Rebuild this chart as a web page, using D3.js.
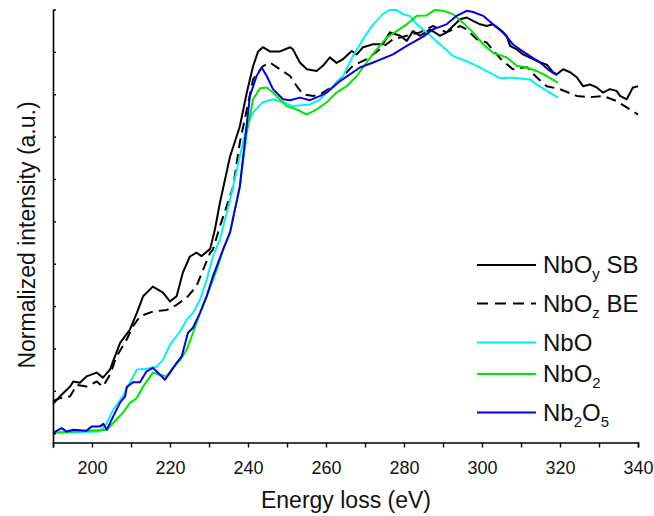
<!DOCTYPE html>
<html>
<head>
<meta charset="utf-8">
<script src="https://cdn.jsdelivr.net/npm/d3@7"></script>
<style>
	body { margin: 0; background: #fff; }
	svg { font-family: Arial, "Liberation Sans", sans-serif; }
</style>
</head>
<body>
<div id="divplot"></div>
<script>
// EELS Nb M-edge comparison

const sbEnergy = [190,191.8,194.4,195.2,196.9,198.6,201.2,202.8,204.6,207.2,209.7,211.5,213.1,215.6,218.2,220,221.7,223.3,225.1,226.8,228.1,230.3,231.5,232.8,235.4,237.9,239.7,241.3,242.6,243.8,245.6,248.2,250.8,251.5,253.3,255.1,257.6,259.2,261,262.7,264.4,266.6,267.9,269.5,272.1,274.6,276.4,279,280.7,282.3,284.1,286.7,289.2,290.9,292.6,294.4,296.1,297.7,299.5,301.2,302.8,304.6,306.3,307.2,308.9,310.5,313.1,314.9,316.6,318.2,319.2,320.8,322.6,324.3,325.9,327.7,329.4,331,332.8,334.5,335.4,337.1,338.7,340]
const sbIntensity = [0.069,0.087,0.110,0.122,0.119,0.134,0.143,0.131,0.150,0.213,0.244,0.284,0.323,0.346,0.332,0.311,0.323,0.379,0.417,0.426,0.418,0.435,0.48,0.544,0.653,0.724,0.804,0.866,0.901,0.911,0.901,0.901,0.911,0.906,0.875,0.859,0.855,0.867,0.887,0.874,0.883,0.902,0.894,0.911,0.918,0.918,0.946,0.938,0.926,0.949,0.938,0.953,0.938,0.946,0.961,0.977,0.981,0.973,0.965,0.961,0.965,0.953,0.938,0.914,0.906,0.894,0.883,0.875,0.870,0.852,0.847,0.859,0.852,0.840,0.819,0.823,0.816,0.804,0.812,0.808,0.796,0.788,0.816,0.819]

const beEnergy = [190,191.8,194.4,196.1,198.6,201.2,202.8,204.6,206.3,208.9,210.5,212.3,215.6,219.2,221.7,224.3,226.8,228.5,230.3,231,232.8,236.2,237.9,239.7,241.3,243.8,245.6,248.2,250.8,252.5,254.1,256.7,258.5,261.8,266.9,270.4,273.8,277.2,280.7,284.1,287.4,290.9,294.4,296.1,298.6,301.2,304.6,307.9,311.5,314,316.6,320,324.3,327.7,331,334.5,338.7,340]
const beIntensity = [0.075,0.083,0.087,0.114,0.110,0.122,0.110,0.138,0.181,0.221,0.252,0.276,0.287,0.291,0.303,0.320,0.347,0.386,0.426,0.433,0.488,0.582,0.686,0.764,0.835,0.866,0.875,0.859,0.843,0.819,0.800,0.796,0.800,0.819,0.867,0.883,0.906,0.930,0.938,0.946,0.961,0.946,0.961,0.953,0.930,0.922,0.885,0.859,0.864,0.840,0.819,0.812,0.796,0.793,0.796,0.784,0.760,0.752]

const nboEnergy = [190,202.1,203.8,205.4,207.9,209.7,211.5,214,216.6,218.2,220,222.6,224.3,225.9,227.7,229.4,231,232.8,235.4,237.9,239.7,241.3,243.8,246.4,249,251.5,255.9,258.5,261,264.4,266.9,269.5,272.1,274.6,276.4,278.1,279.7,281.5,283.3,285.8,289.2,292.6,296.1,299.5,304.6,307.9,312.3,314,317.4,319.5]
const nboIntensity = [0.001,0.004,0.024,0.055,0.087,0.119,0.150,0.152,0.157,0.173,0.209,0.240,0.268,0.284,0.315,0.362,0.417,0.457,0.551,0.653,0.725,0.757,0.781,0.788,0.781,0.772,0.776,0.788,0.812,0.843,0.890,0.930,0.965,0.989,0.999,0.999,0.989,0.985,0.965,0.946,0.918,0.890,0.878,0.863,0.838,0.839,0.835,0.823,0.804,0.792]

const nbo2Energy = [190,203.8,205.4,207.9,209.7,211.5,213.1,215.6,217.4,219.1,220.8,222.6,224.3,225.9,227.7,229.4,232,233.6,235.4,237.9,239.7,241.3,243.1,244.8,246.4,249.9,252.5,255.1,257.6,260.2,262.7,265.3,267.9,270.4,273,275.6,278.1,280.7,283.3,285.8,287.9,290,292.6,295.1,297.7,300.3,302.8,306.3,308.9,311.5,314,316.6,319.5]
const nbo2Intensity = [0.001,0.008,0.024,0.048,0.071,0.083,0.110,0.143,0.138,0.134,0.154,0.173,0.197,0.237,0.284,0.323,0.386,0.433,0.474,0.582,0.710,0.788,0.814,0.816,0.804,0.772,0.764,0.752,0.764,0.781,0.804,0.819,0.843,0.875,0.906,0.934,0.949,0.965,0.985,0.986,0.999,0.997,0.989,0.969,0.946,0.918,0.898,0.887,0.867,0.863,0.855,0.843,0.827]

const nb2o5Energy = [190,192.2,193.5,195.2,198.6,199.9,202.1,202.9,203.8,205.4,207.2,208.5,208.9,210.5,212.3,214,215.6,216.9,218.7,220,221.7,223,224.6,225.9,227.7,229.4,231,233.6,235.4,237.9,240.5,242.2,243.5,244.8,246.4,249,250.8,253.3,255.9,258.5,260.2,263.6,268.7,272.1,277.2,280.7,284.9,287.4,290.9,293.5,296.1,297.7,300.3,302.8,305.4,307.9,309.7,312.3,314.9,317.4,319.2]
const nb2o5Intensity = [0.001,0.012,0.004,0.008,0.006,0.016,0.016,0.022,0.008,0.039,0.072,0.087,0.109,0.120,0.120,0.146,0.154,0.143,0.126,0.143,0.166,0.181,0.237,0.249,0.284,0.323,0.370,0.433,0.474,0.582,0.796,0.843,0.863,0.843,0.812,0.788,0.786,0.792,0.786,0.796,0.804,0.831,0.863,0.875,0.894,0.914,0.936,0.953,0.965,0.985,0.997,0.994,0.985,0.965,0.946,0.918,0.906,0.890,0.875,0.855,0.845]

const xMajorTicks = [200, 220, 240, 260, 280, 300, 320, 340]
const xMinorTicks = [190, 210, 230, 250, 270, 290, 310, 330]
const yTicks = [0, 0.1, 0.2, 0.3, 0.4, 0.5, 0.6, 0.7, 0.8, 0.9, 1.0]

// legend labels: [text, subscript]
const seriesNames = [
	[['NbO', 'y'], [' SB', null]],
	[['NbO', 'z'], [' BE', null]],
	[['NbO', null]],
	[['NbO', '2']],
	[['Nb', '2'], ['O', '5']]
]

const series = [
	{ x: sbEnergy, y: sbIntensity, color: '#000000', dash: null },
	{ x: beEnergy, y: beIntensity, color: '#000000', dash: '10,6' },
	{ x: nboEnergy, y: nboIntensity, color: '#00f2f2', dash: null },
	{ x: nbo2Energy, y: nbo2Intensity, color: '#00e600', dash: null },
	{ x: nb2o5Energy, y: nb2o5Intensity, color: '#0000e6', dash: null }
]

const plot = () => {

	let width = 654
	let height = 516

	let xScale = d3.scaleLinear()
		.domain([190, 340])
		.range([53, 638])

	let yScale = d3.scaleLinear()
		.domain([-0.022, 1])
		.range([442.5, 9.5])

	let svg = d3.select('#divplot')
		.append('svg')
		.attr('width', width)
		.attr('height', height)

	// curves
	let line = d3.line()
		.x(d => xScale(d[0]))
		.y(d => yScale(d[1]))

	svg.selectAll('path.curve')
	.data(series)
	.enter()
	.append('path')
	.attr('class', 'curve')
	.attr('d', s => line(s.x.map((e, i) => [e, s.y[i]])))
	.attr('fill', 'none')
	.attr('stroke', s => s.color)
	.attr('stroke-width', 2)
	.attr('stroke-linejoin', 'round')
	.attr('stroke-dasharray', s => s.dash)

	// x axis
	let xAxis = svg.append('g')
		.attr('transform', `translate(0, ${yScale.range()[0]})`)
		.call(d3.axisBottom(xScale)
			.tickValues(xMajorTicks)
			.tickSize(5)
			.tickPadding(14)
			.tickFormat(d3.format('d')))
	xAxis.select('.domain').attr('stroke-width', 1.6)
	xAxis.selectAll('.tick line').attr('stroke-width', 1.4)
	xAxis.selectAll('text')
		.attr('font-size', 18)
		.attr('font-family', 'Arial, "Liberation Sans", sans-serif')
		.attr('fill', '#111')

	let xMinor = svg.append('g')
		.attr('transform', `translate(0, ${yScale.range()[0]})`)
		.call(d3.axisBottom(xScale)
			.tickValues(xMinorTicks)
			.tickSize(5)
			.tickFormat(''))
	xMinor.select('.domain').remove()
	xMinor.selectAll('.tick line').attr('stroke-width', 1.4)
	xMinor.selectAll('.tick text').remove()

	// y axis, ticks inward, no labels
	let yAxis = svg.append('g')
		.attr('transform', `translate(${xScale.range()[0]}, 0)`)
		.call(d3.axisRight(yScale)
			.tickValues(yTicks)
			.tickSize(3)
			.tickSizeOuter(0)
			.tickFormat(''))
	yAxis.select('.domain').attr('stroke-width', 1.6)
	yAxis.selectAll('.tick line').attr('stroke-width', 1.4)
	yAxis.selectAll('.tick text').remove()

	// axis titles
	svg.append('text')
	.attr('x', 346)
	.attr('y', 508)
	.attr('text-anchor', 'middle')
	.attr('font-size', 23)
	.attr('fill', '#111')
	.text('Energy loss (eV)')

	svg.append('text')
	.attr('transform', 'translate(35, 235) rotate(-90)')
	.attr('text-anchor', 'middle')
	.attr('font-size', 23)
	.attr('fill', '#111')
	.text('Normalized intensity (a.u.)')

	// legend
	let legendRows = [265, 303.5, 342.5, 374, 412.5]
	let legend = svg.selectAll('g.legend')
	.data(series)
	.enter()
	.append('g')
	.attr('class', 'legend')
	.attr('transform', (s, i) => `translate(0, ${legendRows[i]})`)

	legend.append('line')
	.attr('x1', 477)
	.attr('x2', 536)
	.attr('y1', 0)
	.attr('y2', 0)
	.attr('stroke', s => s.color)
	.attr('stroke-width', 2)
	.attr('stroke-dasharray', s => s.dash ? '11,7' : null)

	legend.append('text')
	.attr('x', 543)
	.attr('y', 0)
	.attr('dy', '0.35em')
	.attr('font-size', 24)
	.attr('fill', '#111')
	.each(function (s, i) {
		let t = d3.select(this)
		let shift = 0
		seriesNames[i].forEach(part => {
			let main = t.append('tspan').text(part[0])
			if (shift) { main.attr('dy', -shift); shift = 0 }
			if (part[1]) {
				t.append('tspan').attr('font-size', 15).attr('dy', 6).text(part[1])
				shift = 6
			}
		})
	})
}


plot()
</script>
</body>
</html>
